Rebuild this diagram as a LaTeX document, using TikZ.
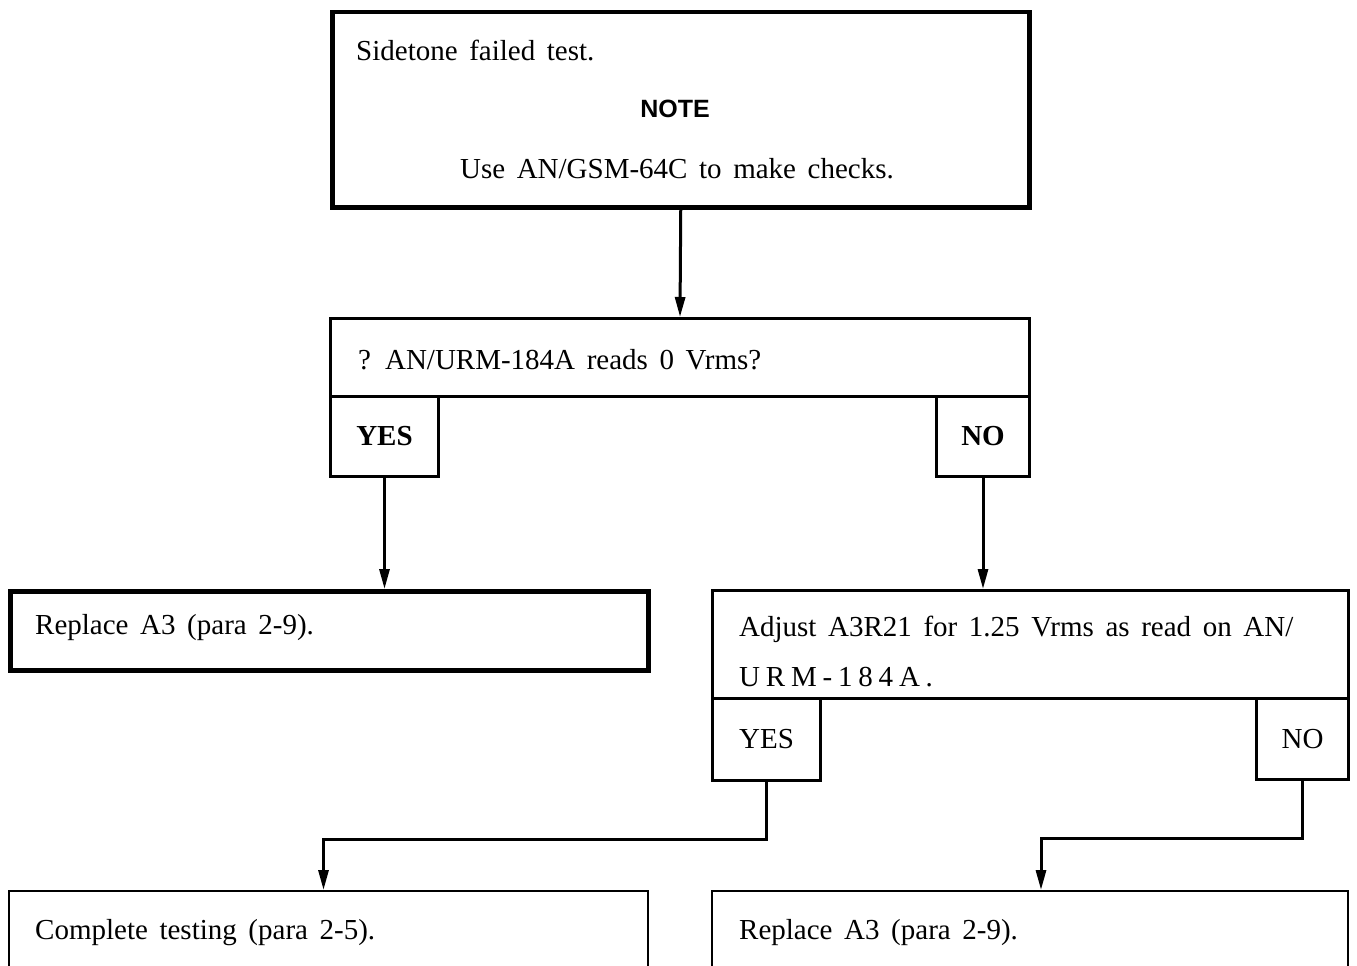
\documentclass[tikz,border=0pt]{standalone}
\usepackage{fontspec}
\setmainfont{Liberation Serif}
\setsansfont{Liberation Sans}
\usetikzlibrary{arrows.meta}

\newcommand\widewords{\spaceskip=.4em\relax}

\tikzset{
  heavybox/.style={draw, line width=4.5pt, inner sep=0pt, anchor=north west},
  lightbox/.style={draw, line width=3pt, inner sep=0pt, anchor=north west},
  thinbox/.style={draw, line width=2pt, inner sep=0pt, anchor=north west},
  txt/.style={inner sep=0pt, anchor=west, align=left,
    font=\fontsize{29}{50}\selectfont\widewords},
  answer/.style={inner sep=0pt, font=\fontsize{29}{34}\selectfont},
  flow/.style={line width=3pt, -{Triangle[length=20pt,width=10pt]}},
}

\begin{document}
\begin{tikzpicture}[x=1pt,y=-1pt]
\clip (0,0) rectangle (1357,966);

% first step
\node[heavybox, minimum width=697, minimum height=195] (fail) at (330,10) {};
\node[txt] (failtxt) at (356,50) {Sidetone failed test.};
\node[answer, font=\fontsize{25}{30}\sffamily\bfseries] (note) at (675,109) {NOTE};
\node[txt, anchor=center] (notetxt) at (677,169) {Use AN/GSM-64C to make checks.};

% first question
\node[lightbox, minimum width=699, minimum height=78] (vrms) at (329,317) {};
\node[txt] (vrmstxt) at (358,360) {? AN/URM-184A reads 0 Vrms?};
\node[lightbox, minimum width=108, minimum height=80] (yesa) at (329,395) {};
\node[lightbox, minimum width=93, minimum height=80] (noa) at (935,395) {};
\node[answer, font=\fontsize{29}{34}\selectfont\bfseries] at (yesa) {YES};
\node[answer, font=\fontsize{29}{34}\selectfont\bfseries] at (noa) {NO};

% yes: replace
\node[heavybox, minimum width=638, minimum height=79] (repla) at (8,589) {};
\node[txt] (replatxt) at (35,628) {Replace A3 (para 2-9).};

% no: adjust
\node[lightbox, minimum width=636, minimum height=108] (adjust) at (711,589) {};
\node[txt] (adjusttxt) at (739,651) {Adjust A3R21 for 1.25 Vrms as read on AN/\\
  {\addfontfeature{LetterSpace=20}URM-184A.}};
\node[lightbox, minimum width=108, minimum height=82] (yesb) at (711,697) {};
\node[lightbox, minimum width=92, minimum height=81] (nob) at (1255,697) {};
\node[answer] at (yesb) {YES};
\node[answer] at (nob) {NO};

% last steps
\node[thinbox, minimum width=639, minimum height=120] (done) at (8,890) {};
\node[txt] (donetxt) at (35,933) {Complete testing (para 2-5).};
\node[thinbox, minimum width=636, minimum height=120] (replb) at (711,890) {};
\node[txt] (replbtxt) at (739,933) {Replace A3 (para 2-9).};

% connectors
\draw[flow] (fail.south) -- (vrms.north);
\draw[flow] (yesa.south) -- (yesa.south |- repla.north);
\draw[flow] (noa.south) -- (noa.south |- adjust.north);
\draw[flow] (yesb.south) -- ++(0,57) -| ([xshift=-5]done.north);
\draw[flow] (nob.south) -- ++(0,57) -| ([xshift=11]replb.north);

\end{tikzpicture}
\end{document}
